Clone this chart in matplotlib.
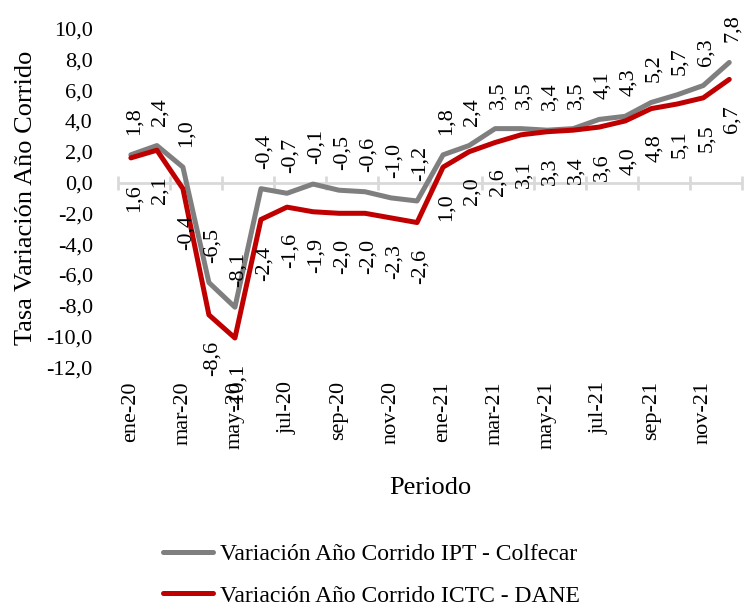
import numpy as np
import matplotlib
matplotlib.use("Agg")
import matplotlib.pyplot as plt

plt.rcParams['font.family'] = ['Liberation Serif', 'DejaVu Serif']

periodos = ['ene-20', 'feb-20', 'mar-20', 'abr-20', 'may-20', 'jun-20',
            'jul-20', 'ago-20', 'sep-20', 'oct-20', 'nov-20', 'dic-20',
            'ene-21', 'feb-21', 'mar-21', 'abr-21', 'may-21', 'jun-21',
            'jul-21', 'ago-21', 'sep-21', 'oct-21', 'nov-21', 'dic-21']
ipt_colfecar = [1.8, 2.4, 1.0, -6.5, -8.1, -0.4, -0.7, -0.1, -0.5, -0.6, -1.0, -1.2,
                1.8, 2.4, 3.5, 3.5, 3.4, 3.5, 4.1, 4.3, 5.2, 5.7, 6.3, 7.8]
ictc_dane = [1.6, 2.1, -0.4, -8.6, -10.1, -2.4, -1.6, -1.9, -2.0, -2.0, -2.3, -2.6,
             1.0, 2.0, 2.6, 3.1, 3.3, 3.4, 3.6, 4.0, 4.8, 5.1, 5.5, 6.7]

gris = '#7f7f7f'
rojo = '#c00000'
gris_eje = '#d9d9d9'
x = np.arange(len(periodos))

fig = plt.figure(figsize=(7.46, 6.08), dpi=100)
ax = fig.add_axes([0.158, 0.396, 0.837, 0.557])

ax.plot(x, ipt_colfecar, color=gris, lw=3.6, solid_capstyle='round',
        label='Variación Año Corrido IPT - Colfecar', zorder=3)
ax.plot(x, ictc_dane, color=rojo, lw=3.6, solid_capstyle='round',
        label='Variación Año Corrido ICTC - DANE', zorder=3)

def coma(v):
    return f'{v:.1f}'.replace('.', ',')

# etiquetas de datos: IPT arriba, ICTC abajo
for i, v in enumerate(ipt_colfecar):
    ax.annotate(coma(v), (i, v), xytext=(3, 20), textcoords='offset pixels',
                rotation=90, ha='center', va='bottom', fontsize=16)
for i, v in enumerate(ictc_dane):
    ax.annotate(coma(v), (i, v), xytext=(3, -26), textcoords='offset pixels',
                rotation=90, ha='center', va='top', fontsize=16)

ymin, ymax = -12, 10
ax.set_ylim(ymin, ymax)
ax.set_xlim(-0.5, len(periodos) - 0.5)
ax.set_yticks(np.arange(ymin, ymax + 1, 2))
ax.set_yticklabels([coma(v) for v in np.arange(ymin, ymax + 1, 2)], fontsize=16)
ax.set_xticks(x[::2])
ax.set_xticklabels(periodos[::2], rotation=90, fontsize=16)
ax.tick_params(axis='both', length=0)
ax.tick_params(axis='y', pad=18)
ax.tick_params(axis='x', pad=10)
for s in ax.spines.values():
    s.set_visible(False)

# eje de categorias en cero con marcas entre cada dos meses
ax.axhline(0, color=gris_eje, lw=2, zorder=1)
eje = ax.secondary_xaxis((0 - ymin) / (ymax - ymin))
eje.set_xticks(np.arange(-0.5, len(periodos), 2))
eje.set_xticklabels([])
eje.tick_params(direction='inout', length=10, width=2, color=gris_eje)
for s in eje.spines.values():
    s.set_visible(False)

ax.set_ylabel('Tasa Variación Año Corrido', fontsize=19, labelpad=7)
ax.set_xlabel('Periodo', fontsize=19, labelpad=20)

fig.legend(loc='center left', bbox_to_anchor=(0.2185, 0.054),
           frameon=False, fontsize=17, handlelength=2.1, handletextpad=0.3,
           labelspacing=0.85, borderpad=0, borderaxespad=0)

fig.savefig('out.png', dpi=100)
